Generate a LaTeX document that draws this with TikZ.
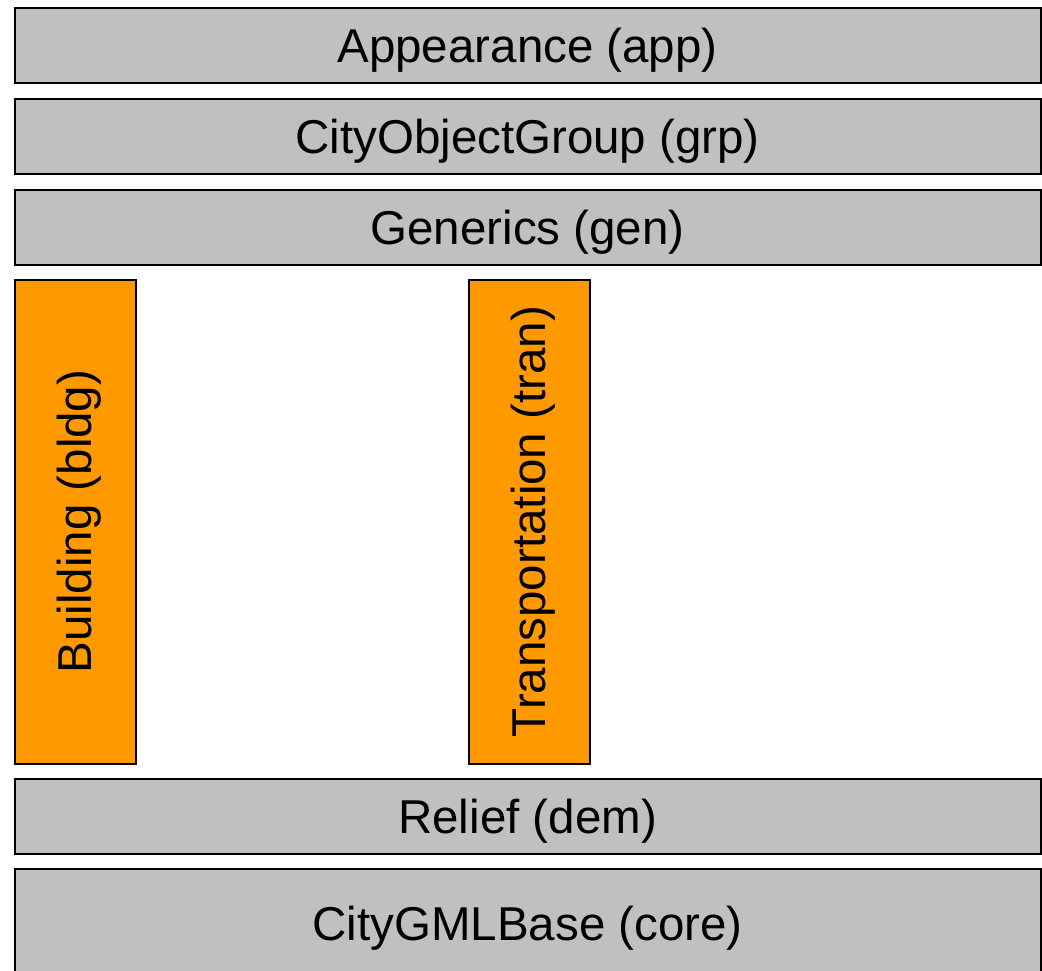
\documentclass[tikz,border=0pt]{standalone}
\usepackage{fontspec}
\setmainfont{Liberation Sans}
\usepackage{tikz}
\definecolor{layerGray}{RGB}{192, 192, 192}
\definecolor{extOrange}{RGB}{255, 153, 0}
\usetikzlibrary{positioning}

\tikzset{
    layer/.style={
        rectangle,
        draw=black,
        line width=2pt,
        fill=layerGray,
        minimum width=1026pt,
        minimum height=75.5pt,
        inner sep=0pt,
        text height=35pt,
        text depth=1.5pt,
        font=\fontsize{47.5}{57}\selectfont
    },
    extbox/.style={
        rectangle,
        draw=black,
        line width=2pt,
        fill=extOrange,
        minimum width=121pt,
        minimum height=484pt,
        inner sep=0pt
    },
    exttext/.style={
        rotate=90,
        inner sep=0pt,
        text height=35pt,
        text depth=1.5pt,
        font=\fontsize{47.5}{57}\selectfont
    }
}

\begin{document}
\begin{tikzpicture}
    \useasboundingbox (0,0) rectangle (1042pt,-970pt);
    \clip (0,0) rectangle (1042pt,-970pt);

    % horizontal layers on top
    \node[layer] (app) at (527.6pt,-45.25pt) {Appearance (app)};
    \node[layer, below=13.5pt of app] (grp) {CityObjectGroup (grp)};
    \node[layer, below=13.5pt of grp] (gen) {Generics (gen)};

    % thematic extension modules
    \node[extbox, below=12.5pt of gen.south west, anchor=north west] (bldg) {};
    \node[exttext] (bldgtext) at (bldg) {Building (bldg)};
    \node[extbox, right=331pt of bldg] (tran) {};
    \node[exttext] (trantext) at (tran) {Transportation (tran)};

    % base layers
    \node[layer, below=13pt of bldg.south west, anchor=north west] (dem) {Relief (dem)};
    \node[layer, minimum height=110pt, below=13pt of dem] (core) {CityGMLBase (core)};
\end{tikzpicture}
\end{document}
